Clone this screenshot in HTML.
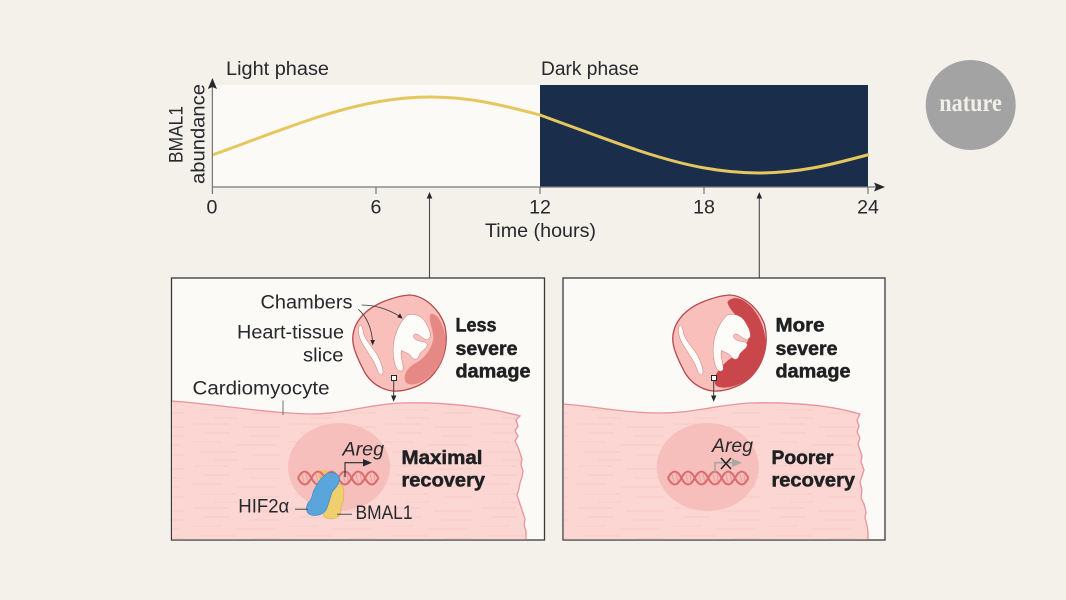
<!DOCTYPE html>
<html><head><meta charset="utf-8"><style>
html,body{margin:0;padding:0;background:#f4f1eb}
svg{display:block}
text{font-family:"Liberation Sans",sans-serif;fill:#26282c;font-size:19.6px}
.b{font-weight:bold;font-size:19.4px;stroke:#1f2022;stroke-width:.5px;fill:#1f2022}
</style></head><body>
<svg width="1066" height="600" viewBox="0 0 1066 600" xmlns="http://www.w3.org/2000/svg">
<defs>
<pattern id="st" width="96" height="42" patternUnits="userSpaceOnUse">
<g stroke="#f8c9c6" stroke-width="1" fill="none">
<path d="M2 4h34M50 7h38M12 13h26M58 16h30M0 22h30M44 25h40M8 32h36M60 35h28M22 40h24"/>
</g>
</pattern>
<g id="dna" fill="none" stroke="#dc6c6e">
<path stroke-width=".9" stroke="#ea9a98" d="M4 -4l2 8M8 -5l2 10M18 -4l2 8M22 -4l1 8M31 -4l2 8M35 -5l2 10M45 -4l2 8M49 -4l1 8M58 -4l2 8M62 -5l2 10M72 -4l2 8M76 -4l1 8"/>
<g stroke-width="2.1">
<path d="M0 0q6.7-13 13.4 0t13.4 0 13.4 0 13.4 0 13.4 0 13.4 0"/>
<path d="M0 0q6.7 13 13.4 0t13.4 0 13.4 0 13.4 0 13.4 0 13.4 0"/>
</g>
</g>
<path id="outline" d="M720 75C765 78 808 118 824 165C836 215 825 270 792 310C765 345 710 366 668 363C630 358 596 335 578 295C558 255 545 225 549 195C555 150 590 115 640 95C665 85 695 76 720 75Z"/>
<g id="chambers" fill="#fdfcf8" stroke="#c9686b" stroke-width="1.4">
<path d="M570 165C562 175 565 195 572 210C585 240 610 265 620 295C624 310 634 320 638 312C642 300 632 275 622 255C608 232 590 215 582 195C578 180 578 165 570 165Z"/>
<path d="M712 135C737 128 758 140 768 160C775 172 782 185 781 200L772 210C757 207 750 193 736 192C728 194 728 204 740 210C752 216 768 212 772 224C770 238 752 242 747 257C744 272 728 270 722 257C714 249 704 246 694 242C690 262 702 282 699 300C688 310 676 297 672 270C664 230 673 173 712 135Z"/>
</g>
</defs>
<rect width="1066" height="600" fill="#f4f1eb"/>

<!-- chart -->
<rect x="212" y="85" width="328" height="102" fill="#fbfaf6"/>
<rect x="540" y="85" width="328" height="102" fill="#1a2e4c"/>
<path d="M212 155C230.2 148.8 248.5 141.6 266.7 135C284.9 128.4 303.1 121.7 321.3 116C339.5 110.3 357.8 105.4 376 102.1C394.2 98.8 412.5 97 430.7 97C448.9 97 467.1 98.8 485.3 102.1C503.5 105.4 521.8 110.3 540 115C558.2 121.7 576.5 128.4 594.7 135C612.9 141.6 631.1 148.3 649.3 154C667.5 159.7 685.8 164.6 704 167.9C722.2 171.2 740.5 173 758.7 173C776.9 173 795.1 171.2 813.3 167.9C831.5 164.6 849.8 159.7 869 154.5" fill="none" stroke="#e5c65f" stroke-width="3"/>
<g stroke="#77777a" stroke-width="1.2" fill="none">
<path d="M212.4 194V86M212 187H876M376 187v7M540 187v7M704 187v7M868 187v7"/>
</g>
<path d="M212.4 78L217 89L212.4 87L207.8 89Z" fill="#26282c"/>
<path d="M885 187L874 182.5L876 187L874 191.5Z" fill="#26282c"/>

<text x="226" y="75" textLength="103" lengthAdjust="spacingAndGlyphs">Light phase</text>
<text x="541" y="75" textLength="98" lengthAdjust="spacingAndGlyphs">Dark phase</text>
<text transform="translate(182.5,163) rotate(-90)" textLength="57" lengthAdjust="spacingAndGlyphs">BMAL1</text>
<text transform="translate(204.5,184) rotate(-90)" textLength="100" lengthAdjust="spacingAndGlyphs">abundance</text>
<g text-anchor="middle">
<text x="212" y="213.5">0</text><text x="376" y="213.5">6</text><text x="540" y="213.5">12</text><text x="704" y="213.5">18</text><text x="868" y="213.5">24</text>
</g>
<text x="485" y="237" textLength="111" lengthAdjust="spacingAndGlyphs">Time (hours)</text>

<!-- connectors -->
<g stroke="#4a4a4c" stroke-width="1.1"><path d="M429.5 278V196M759.3 278V196"/></g>
<path d="M429.5 192L432.3 198.5H426.7Z" fill="#26282c"/><path d="M759.3 192L762.1 198.5H756.5Z" fill="#26282c"/>

<!-- panels -->
<rect x="171.5" y="278" width="373" height="262" fill="#fbfaf6" stroke="#3a3a3c" stroke-width="1.3"/>
<rect x="563" y="278" width="322" height="262" fill="#fbfaf6" stroke="#3a3a3c" stroke-width="1.3"/>

<!-- left cell -->
<path d="M172 401C215 404 265 413 310 414C345 414 365 405 400 403C440 402 480 405 520 416L516 420L518 426L515 431L518 436L515 441L518 447L520 453L522 459L521 465L523 471L522 477L520 483L519 489L517 495L519 501L521 507L523 513L525 519L524 525L526 531L526 539.4H172Z" fill="#fbd6d3"/>
<path d="M172 401C215 404 265 413 310 414C345 414 365 405 400 403C440 402 480 405 520 416L516 420L518 426L515 431L518 436L515 441L518 447L520 453L522 459L521 465L523 471L522 477L520 483L519 489L517 495L519 501L521 507L523 513L525 519L524 525L526 531L526 539.4H172Z" fill="url(#st)"/>
<path d="M172 401C215 404 265 413 310 414C345 414 365 405 400 403C440 402 480 405 520 416L516 420L518 426L515 431L518 436L515 441L518 447L520 453L522 459L521 465L523 471L522 477L520 483L519 489L517 495L519 501L521 507L523 513L525 519L524 525L526 531L526 539.4" fill="none" stroke="#e9949a" stroke-width="1.3"/>
<ellipse cx="339" cy="467" rx="51" ry="44" fill="#f6bfbb"/>

<!-- right cell -->
<path d="M563.7 404C600 407 625 413 660 413C695 413 715 405 750 403C790 402 830 405 860 414L857 420L859 426L857 432L860 438L858 444L860 450L862 456L861 462L864 470L862 476L860 482L862 490L861 498L864 504L866 512L865 518L867 525L868 532L868 539.4H563.7Z" fill="#fbd6d3"/>
<path d="M563.7 404C600 407 625 413 660 413C695 413 715 405 750 403C790 402 830 405 860 414L857 420L859 426L857 432L860 438L858 444L860 450L862 456L861 462L864 470L862 476L860 482L862 490L861 498L864 504L866 512L865 518L867 525L868 532L868 539.4H563.7Z" fill="url(#st)"/>
<path d="M563.7 404C600 407 625 413 660 413C695 413 715 405 750 403C790 402 830 405 860 414L857 420L859 426L857 432L860 438L858 444L860 450L862 456L861 462L864 470L862 476L860 482L862 490L861 498L864 504L866 512L865 518L867 525L868 532L868 539.4" fill="none" stroke="#e9949a" stroke-width="1.3"/>
<ellipse cx="707.7" cy="467" rx="51" ry="44" fill="#f6bfbb"/>

<!-- left heart -->
<g transform="translate(170,270) scale(.33333)">
<use href="#outline" fill="#f9bfbb" stroke="#b84a50" stroke-width="4"/>
<path d="M782 132C805 128 825 170 827 215C825 262 805 300 778 320C752 342 722 350 708 338C698 320 708 295 735 280C760 268 785 240 790 205C792 180 772 150 782 132Z" fill="#e68883"/>
<use href="#chambers"/>
<path d="M575 105C620 105 660 120 695 143M565 118C590 140 605 175 608 218" fill="none" stroke="#3a3a3c" stroke-width="2.6"/>
<path d="M698 146L682 142L690 130Z" fill="#26282c"/><path d="M608 226L601 210L615 210Z" fill="#26282c"/>
</g>
<rect x="391.5" y="375.5" width="5" height="5" fill="#fbfaf6" stroke="#26282c" stroke-width="1"/>
<path d="M393.7 380.5V397" stroke="#3a3a3c" stroke-width="1"/><path d="M393.7 401.7L391 395.5H396.4Z" fill="#26282c"/>

<!-- right heart -->
<g transform="translate(490,270) scale(.33333)">
<use href="#outline" fill="#f9bfbb" stroke="#b84a50" stroke-width="4"/>
<path d="M712 96C725 80 750 80 772 100C802 122 825 170 827 215C825 265 806 303 778 324C750 347 700 362 678 347C666 327 680 300 715 270C745 250 775 225 778 195C772 160 720 130 712 96Z" fill="#c9474a"/>
<use href="#chambers"/>
</g>
<rect x="711.5" y="375.5" width="5" height="5" fill="#fbfaf6" stroke="#26282c" stroke-width="1"/>
<path d="M713.7 380.5V397" stroke="#3a3a3c" stroke-width="1"/><path d="M713.7 401.7L711 395.5H716.4Z" fill="#26282c"/>

<!-- DNA and proteins left -->
<g transform="translate(230,410) scale(.33333)">
<path d="M265 190C270 178 290 176 296 186C300 198 290 212 278 212C268 210 262 200 265 190Z" fill="#eec16c"/>
</g>
<use href="#dna" x="298" y="478"/>
<path d="M345 477V462.7H368" fill="none" stroke="#26282c" stroke-width="1.1"/>
<path d="M372 462.7L363 459V466.5Z" fill="#26282c"/>
<g transform="translate(230,410) scale(.33333)">
<path d="M320 220C338 220 346 240 339 258C346 274 332 285 332 298C336 318 320 328 298 326C278 324 276 308 281 292C287 280 296 274 295 258C295 238 304 222 320 220Z" fill="#efcf6e" stroke="#dcb24c" stroke-width="2"/>
<path d="M286 194C303 180 332 190 328 212C324 232 308 238 304 252C300 268 298 275 292 290C288 310 262 322 240 314C224 305 228 283 240 272C248 262 246 252 252 240C262 222 270 206 286 194Z" fill="#5aa5dc" stroke="#3f88c0" stroke-width="2"/>
</g>
<path d="M295 509.2H308M337 514.3H352" stroke="#4a4a4c" stroke-width="1"/>

<!-- DNA right -->
<use href="#dna" x="668" y="478"/>
<path d="M715 473V462.7H737" fill="none" stroke="#a9a6a4" stroke-width="1.6"/>
<path d="M742 462.7L732 458.5V467Z" fill="#a9a6a4"/>
<path d="M721 458L731 469M731 458L721 469" stroke="#1f2022" stroke-width="1.5" fill="none"/>

<!-- labels -->
<path d="M283 400.5V415" stroke="#6e6e70" stroke-width="1"/>
<text x="260.5" y="308.5" textLength="92" lengthAdjust="spacingAndGlyphs">Chambers</text>
<text x="237" y="338.5" textLength="107" lengthAdjust="spacingAndGlyphs">Heart-tissue</text>
<text x="303" y="361.5" textLength="40.5" lengthAdjust="spacingAndGlyphs">slice</text>
<text x="192.5" y="394.5" textLength="137" lengthAdjust="spacingAndGlyphs">Cardiomyocyte</text>
<text class="b" x="455.5" y="331.5" textLength="41" lengthAdjust="spacingAndGlyphs">Less</text>
<text class="b" x="455.5" y="355" textLength="62" lengthAdjust="spacingAndGlyphs">severe</text>
<text class="b" x="455.5" y="377.5" textLength="75" lengthAdjust="spacingAndGlyphs">damage</text>
<text class="b" x="775.5" y="331.5" textLength="49" lengthAdjust="spacingAndGlyphs">More</text>
<text class="b" x="775.5" y="355" textLength="62" lengthAdjust="spacingAndGlyphs">severe</text>
<text class="b" x="775.5" y="377.5" textLength="75" lengthAdjust="spacingAndGlyphs">damage</text>
<text class="b" x="401.5" y="464" textLength="81" lengthAdjust="spacingAndGlyphs">Maximal</text>
<text class="b" x="401.5" y="486.5" textLength="83.5" lengthAdjust="spacingAndGlyphs">recovery</text>
<text class="b" x="771.5" y="464" textLength="62" lengthAdjust="spacingAndGlyphs">Poorer</text>
<text class="b" x="771.5" y="486.5" textLength="83.5" lengthAdjust="spacingAndGlyphs">recovery</text>
<text x="342.5" y="455.5" font-style="italic" textLength="41.5" lengthAdjust="spacingAndGlyphs">Areg</text>
<text x="712" y="452" font-style="italic" textLength="41" lengthAdjust="spacingAndGlyphs">Areg</text>
<text x="238.3" y="512.5" textLength="51" lengthAdjust="spacingAndGlyphs">HIF2α</text>
<text x="355.5" y="519" textLength="57" lengthAdjust="spacingAndGlyphs">BMAL1</text>

<!-- nature -->
<circle cx="970.7" cy="105" r="45" fill="#a3a3a3"/>
<text x="939.3" y="111" textLength="62.5" lengthAdjust="spacingAndGlyphs" style="font-family:'Liberation Serif',serif;font-weight:bold;font-size:25px;fill:#f1efe9">nature</text>
</svg>
</body></html>
